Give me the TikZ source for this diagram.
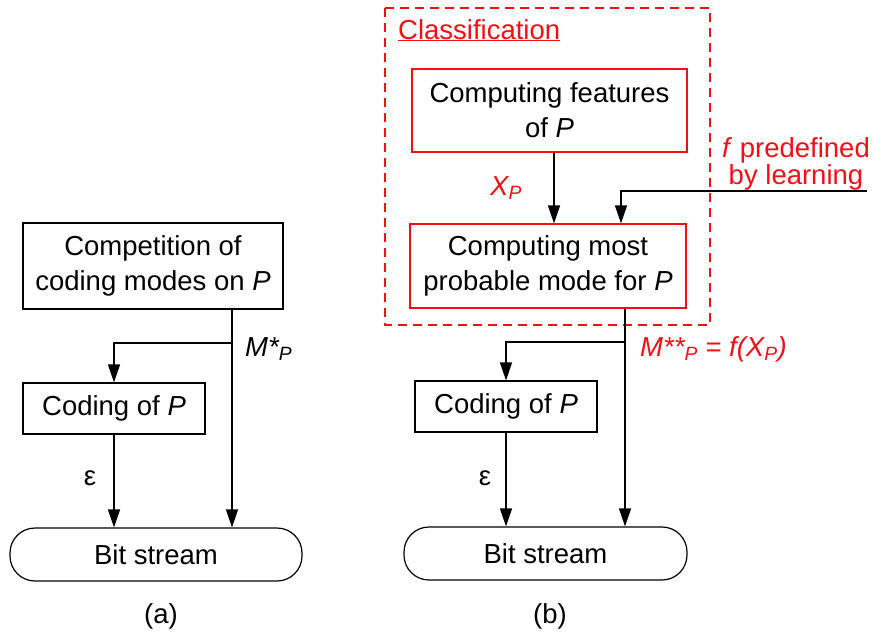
\documentclass[tikz,border=0pt]{standalone}
\usepackage{fontspec}
\setmainfont{Liberation Sans}
\usetikzlibrary{arrows.meta,calc}
\definecolor{cred}{RGB}{245,15,20}
\begin{document}
\begin{tikzpicture}[x=1pt,y=-1pt,
  every node/.style={font=\fontsize{27.5}{35}\selectfont},
  box/.style={draw,line width=1.2pt,align=center,inner sep=0pt},
  redbox/.style={box,draw=cred},
  stream/.style={draw,line width=1.2pt,rounded corners=25pt,inner sep=0pt},
  arr/.style={line width=1.2pt,-{Triangle[length=18pt,width=12pt]}},
  lab/.style={inner sep=0pt}]
\useasboundingbox (0,0) rectangle (873,632);
% (a)
\node[box,minimum width=260pt,minimum height=86pt] (comp) at (153,266) {Competition of\\coding modes on \textit{P}};
\node[box,minimum width=182pt,minimum height=51pt] (coda) at (114,408.5) {Coding of \textit{P}};
\node[stream,minimum width=292pt,minimum height=53pt] (bsa) at (156,554.5) {Bit stream};
\coordinate (xa) at (232,0);
\coordinate (ja) at (232,343);
\draw[arr] (comp.south -| xa) -- (bsa.north -| xa);
\draw[arr] (ja) -| (coda.north);
\draw[arr] (coda.south) -- (bsa.north -| coda.south);
\node[lab,anchor=west] (ma) at (245,349) {\textit{M*\textsubscript{P}}};
\node[lab] (epsa) at (90,478) {ε};
\node[lab] (capa) at (161,616) {(a)};
% (b)
\draw[cred,line width=1.2pt,dash pattern=on 9pt off 6pt] (385,8) rectangle (710,325);
\node[lab,anchor=base west,text=cred] (cls) at (398,39) {\underline{Classification}};
\node[redbox,minimum width=275pt,minimum height=83pt] (feat) at (549.5,110.5) {Computing features\\of \textit{P}};
\node[redbox,minimum width=276pt,minimum height=84pt] (prob) at (548,266) {Computing most\\probable mode for \textit{P}};
\node[box,minimum width=182pt,minimum height=51pt] (codb) at (506,406.5) {Coding of \textit{P}};
\node[stream,minimum width=283pt,minimum height=53pt] (bsb) at (545.5,553.5) {Bit stream};
\coordinate (xx) at (554,0);
\coordinate (xf) at (621,0);
\coordinate (fin) at (867,191);
\coordinate (xb) at (625,0);
\coordinate (jb) at (625,342);
\draw[arr] (feat.south -| xx) -- (prob.north -| xx);
\draw[arr] (fin) -| (prob.north -| xf);
\draw[arr] (prob.south -| xb) -- (bsb.north -| xb);
\draw[arr] (jb) -| (codb.north);
\draw[arr] (codb.south) -- (bsb.north -| codb.south);
\node[lab,text=cred] (xp) at (506,188) {\textit{X\textsubscript{P}}};
\node[lab,text=cred,align=center,font=\fontsize{27.5}{25}\selectfont] (fpre) at (796,164) {\textit{f} predefined\\by learning};
\node[lab,anchor=west,text=cred] (mb) at (640,349) {\textit{M**\textsubscript{P} = f(X\textsubscript{P})}};
\node[lab] (epsb) at (485,478) {ε};
\node[lab] (capb) at (550,616) {(b)};
\end{tikzpicture}
\end{document}
